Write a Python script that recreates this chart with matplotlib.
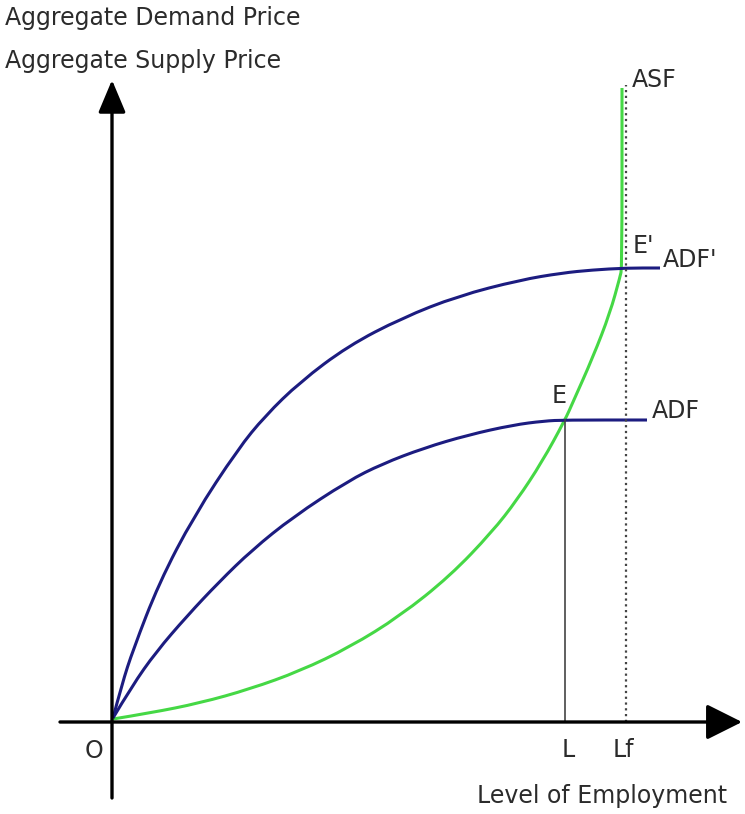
import matplotlib
matplotlib.use("Agg")
import matplotlib.pyplot as plt
from matplotlib.path import Path
from matplotlib.patches import PathPatch

# ---- data (x = level of employment, y = price; origin at O) ----
adf_prime_x = [1, 10, 21, 47, 82, 126, 153, 188, 236, 290, 346, 408, 450, 480, 514, 548]
adf_prime_y = [4, 38, 72, 139, 206, 273, 306, 340, 376, 404, 426, 442, 449, 452, 454, 454]

adf_x = [1, 20, 44, 75, 107, 140, 181, 236, 270, 312, 356, 401, 432, 453, 535]
adf_y = [4, 36, 70, 106, 140, 172, 205, 241, 258, 274, 287, 297, 301, 302, 302]

asf_x = [1, 38, 88, 138, 188, 238, 288, 338, 380, 405, 430, 453, 461, 481, 498, 508, 510, 510]
asf_y = [3, 9, 19, 33, 51, 75, 106, 146, 190, 222, 260, 302, 320, 365, 409, 445, 454, 634]

L_pos, Lf_pos = 453, 514
E_y = 302

BLUE = "#1c1c80"
GREEN = "#45d845"
TXT = "#2b2b2b"
FS = 17


def smooth_curve(ax, xs, ys, **kw):
    """Draw a smooth quadratic B-spline path using the points as controls."""
    pts = list(zip(xs, ys))
    verts = [pts[0]]
    codes = [Path.MOVETO]
    for i in range(1, len(pts) - 1):
        mid = ((pts[i][0] + pts[i + 1][0]) / 2, (pts[i][1] + pts[i + 1][1]) / 2)
        verts += [pts[i], mid]
        codes += [Path.CURVE3, Path.CURVE3]
    verts.append(pts[-1])
    codes.append(Path.LINETO)
    ax.add_patch(PathPatch(Path(verts, codes), fill=False, **kw))


fig = plt.figure(figsize=(7.45, 8.14), dpi=100)
ax = fig.add_axes([0, 0, 1, 1])
ax.set_xlim(-112, 633)
ax.set_ylim(-92, 722)
ax.axis("off")

# axes with arrows
ax.annotate("", xy=(0, 642), xytext=(0, -76),
            arrowprops=dict(arrowstyle="-|>,head_length=1.0,head_width=0.42",
                            lw=2.4, color="black", shrinkA=0, shrinkB=0,
                            mutation_scale=20))
ax.annotate("", xy=(630, 0), xytext=(-52, 0),
            arrowprops=dict(arrowstyle="-|>,head_length=1.0,head_width=0.5",
                            lw=2.4, color="black", shrinkA=0, shrinkB=0,
                            mutation_scale=22))

# guide lines
ax.plot([L_pos, L_pos], [0, E_y], color="#444444", lw=1.2)
ax.plot([Lf_pos, Lf_pos], [0, 637], color="#444444", lw=1.6,
        linestyle=(0, (1, 1.6)))

# curves
smooth_curve(ax, asf_x, asf_y, edgecolor=GREEN, lw=2.2, capstyle="butt")
smooth_curve(ax, adf_prime_x, adf_prime_y, edgecolor=BLUE, lw=2.2)
smooth_curve(ax, adf_x, adf_y, edgecolor=BLUE, lw=2.2)

# labels
kw = dict(fontsize=FS, color=TXT, ha="left", va="baseline")
ax.text(-107, 697, "Aggregate Demand Price", **kw)
ax.text(-107, 654, "Aggregate Supply Price", **kw)
ax.text(-27, -36, "O", **kw)
ax.text(450, -35, "L", **kw)
ax.text(501, -35, "Lf", **kw)
ax.text(365, -81, "Level of Employment", **kw)
ax.text(520, 635, "ASF", **kw)
ax.text(521, 469, "E'", **kw)
ax.text(551, 455, "ADF'", **kw)
ax.text(440, 319, "E", **kw)
ax.text(540, 304, "ADF", **kw)

fig.savefig("out.png", dpi=100)
